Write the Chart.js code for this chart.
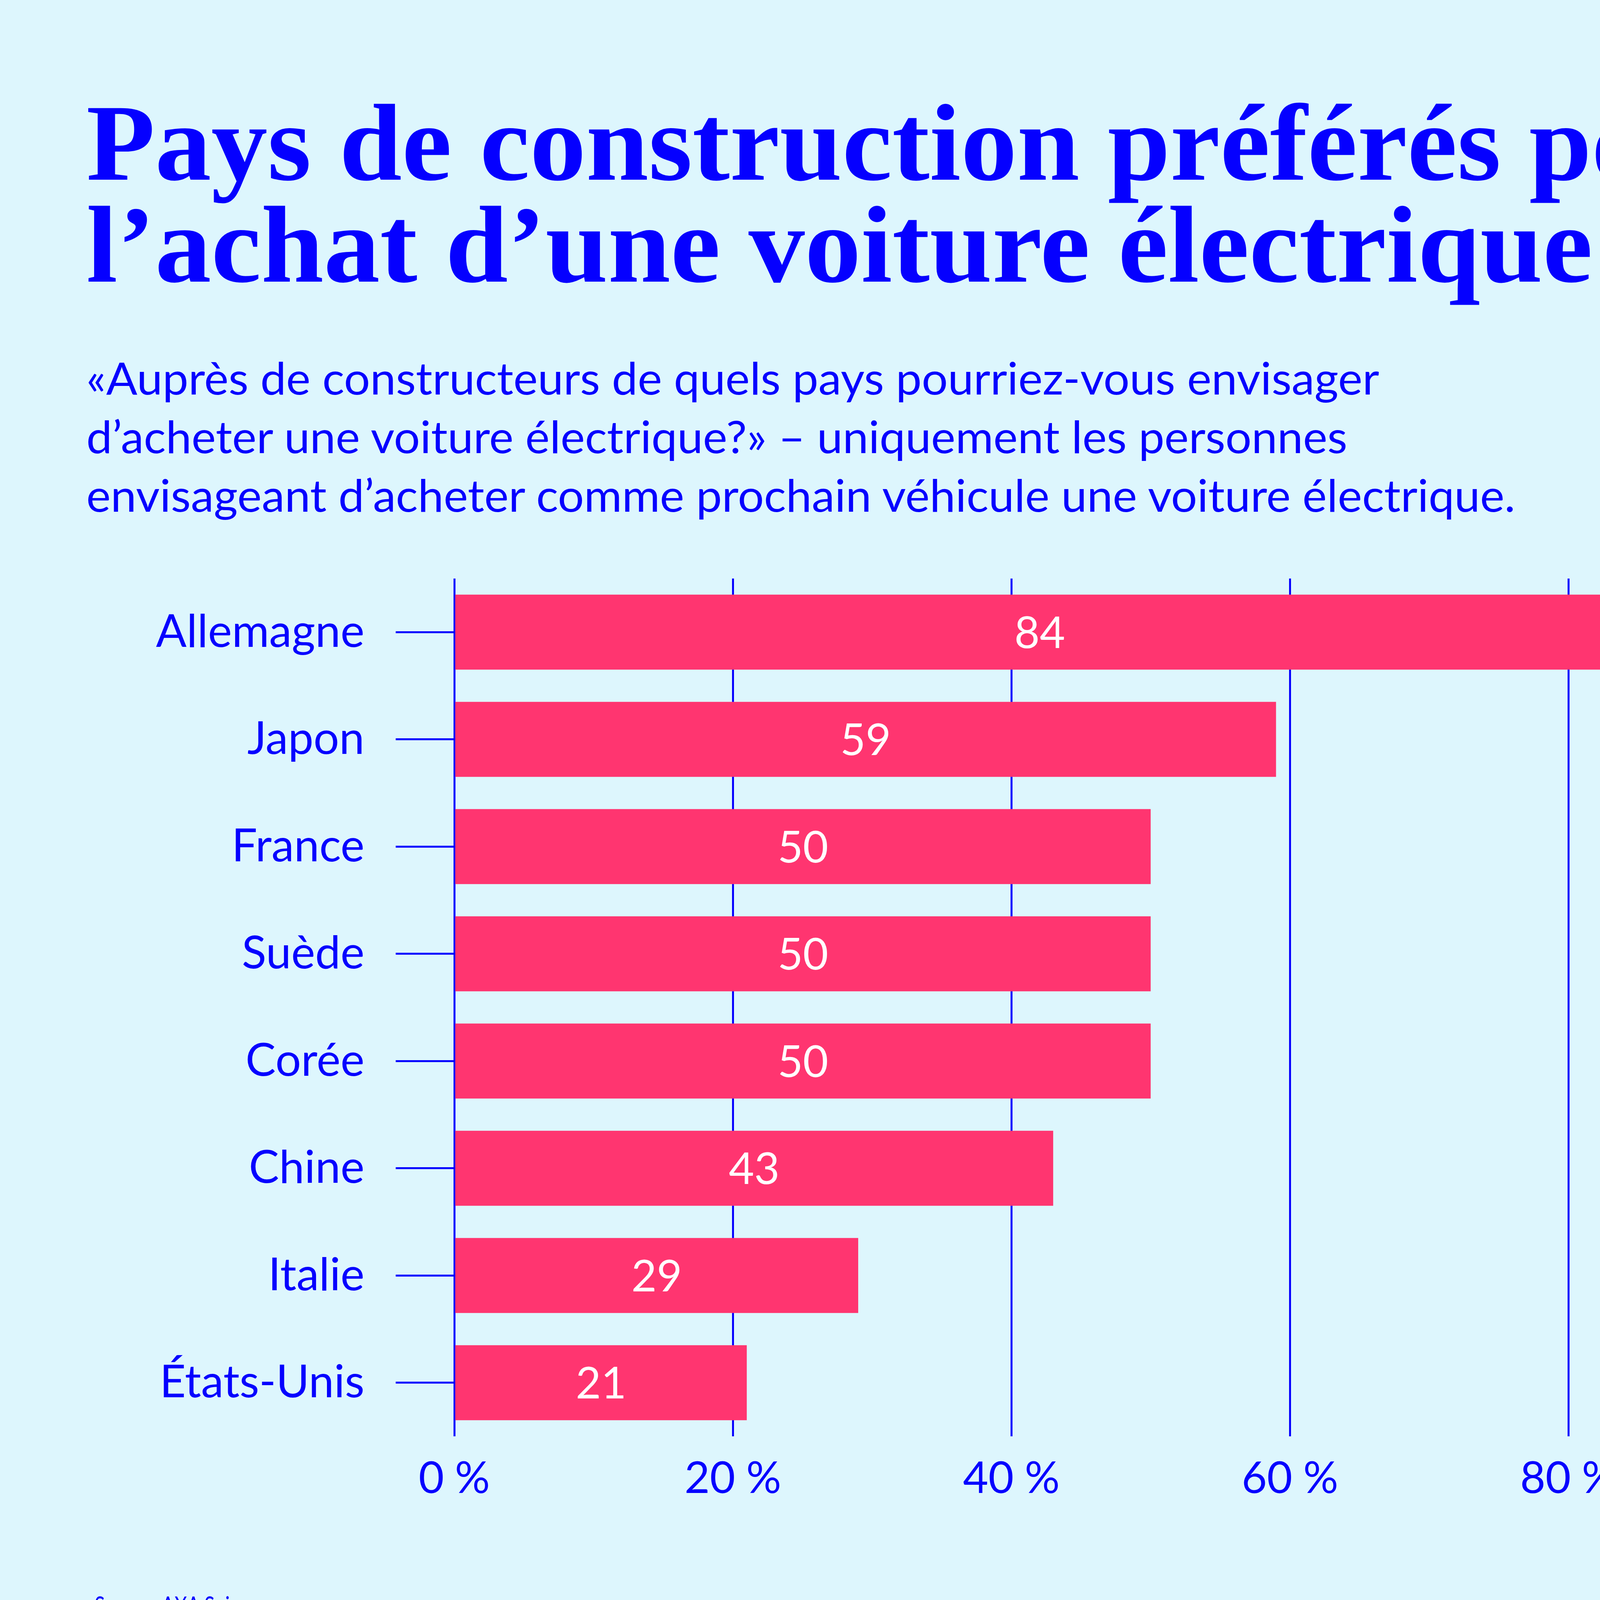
<!DOCTYPE html>
<html lang="fr">
<head>
<meta charset="utf-8">
<title>Pays de construction préférés</title>
<script src="https://cdn.jsdelivr.net/npm/chart.js@4.4.1/dist/chart.umd.min.js"></script>
<style>
  html, body { margin: 0; padding: 0; }
  body {
    width: 4621px; height: 4184px; position: relative; overflow: hidden;
    background: #ddf6fd; color: #0500ff;
  }
  .line { position: absolute; left: 221px; white-space: nowrap; transform-origin: 0 0; }
  .title { font-family: "Liberation Serif", serif; font-weight: bold; font-size: 280px; line-height: 1; }
  .sub { font-family: "Lato", sans-serif; font-size: 114px; line-height: 1.2; }
  .src { font-family: "Lato", sans-serif; font-size: 64px; line-height: 1.2; }
  #wrap { position: absolute; left: 0; top: 1380px; width: 4621px; height: 2620px; }
  #wrap canvas { display: block; }
</style>
</head>
<body>

<div class="line title" id="t1" data-base="460" data-w="4285">Pays de construction préférés pour</div>
<div class="line title" id="t2" data-base="721">l’achat d’une voiture électrique</div>

<div class="line sub" id="s1" data-base="1010" data-w="3310">«Auprès de constructeurs de quels pays pourriez-vous envisager</div>
<div class="line sub" id="s2" data-base="1160">d’acheter une voiture électrique?» – uniquement les personnes</div>
<div class="line sub" id="s3" data-base="1310">envisageant d’acheter comme prochain véhicule une voiture électrique.</div>

<div class="line src" id="src" data-base="4133" data-w="457">«Source: AXA Suisse»</div>

<div id="wrap"><canvas id="chart" width="4621" height="2620"></canvas></div>

<script>
const categories = ['Allemagne', 'Japon', 'France', 'Suède', 'Corée', 'Chine', 'Italie', 'États-Unis'];
const shares = [84, 59, 50, 50, 50, 43, 29, 21];
const xTicks = [0, 20, 40, 60, 80];
const xMax = 84;

const BLUE = '#0500ff';
const PINK = '#ff3570';

function placeLine(el, scale){
    const mark = document.createElement('span');
    mark.style.cssText = 'display:inline-block;width:0;height:0;vertical-align:baseline';
    el.appendChild(mark);
    el.style.top = '0px';
    const off = mark.getBoundingClientRect().top - el.getBoundingClientRect().top;
    mark.remove();
    el.style.top = (Number(el.dataset.base) - off) + 'px';
    if(scale) el.style.transform = 'scaleX(' + scale + ')';
}

function fitScale(el){
    el.style.display = 'inline-block';
    return Number(el.dataset.w) / el.scrollWidth;
}

function layoutText(){
    const ts = fitScale(document.getElementById('t1'));
    placeLine(document.getElementById('t1'), ts);
    placeLine(document.getElementById('t2'), ts);

    const ss = fitScale(document.getElementById('s1'));
    ['s1', 's2', 's3'].forEach(id => placeLine(document.getElementById(id), ss));

    const src = document.getElementById('src');
    placeLine(src, fitScale(src));
}

// white value in the middle of each bar
const barValues = {
    id: 'barValues',
    afterDatasetsDraw(chart){
        const ctx = chart.ctx;
        const meta = chart.getDatasetMeta(0);
        const size = 112;
        ctx.save();
        ctx.fillStyle = '#ffffff';
        ctx.font = size + 'px Lato';
        ctx.textAlign = 'center';
        ctx.textBaseline = 'alphabetic';
        meta.data.forEach((bar, i) => {
            const cx = (bar.x + bar.base) / 2;
            ctx.fillText(String(shares[i]), cx, bar.y + size * 0.36);
        });
        ctx.restore();
    }
};

function noPad(scale){
    scale.paddingTop = 0;
    scale.paddingBottom = 0;
    scale.paddingLeft = 0;
    scale.paddingRight = 0;
}

function initChart(){

    new Chart(document.getElementById('chart'), {
        type: 'bar',
        data: {
            labels: categories,
            datasets: [{
                data: shares,
                backgroundColor: PINK,
                borderWidth: 0,
                categoryPercentage: 1,
                barPercentage: 0.7
            }]
        },
        options: {
            indexAxis: 'y',
            responsive: false,
            animation: false,
            devicePixelRatio: 1,
            layout: { padding: { top: 101, right: 463, bottom: 0, left: 0 } },
            plugins: {
                legend: { display: false },
                tooltip: { enabled: false }
            },
            scales: {
                x: {
                    min: 0,
                    max: xMax,
                    afterBuildTicks: scale => { scale.ticks = xTicks.map(v => ({ value: v })); },
                    afterFit: scale => { scale.height = 323; noPad(scale); },
                    grid: { color: BLUE, lineWidth: 5, drawTicks: false },
                    border: { display: false },
                    ticks: {
                        color: BLUE,
                        padding: 42,
                        font: { family: 'Lato', size: 112 },
                        callback: v => v + '\u202F%'
                    }
                },
                y: {
                    afterFit: scale => { scale.width = 1163; noPad(scale); },
                    grid: {
                        color: BLUE,
                        lineWidth: 5,
                        offset: false,
                        drawOnChartArea: false,
                        drawTicks: true,
                        tickLength: 150
                    },
                    border: { display: false },
                    ticks: {
                        color: BLUE,
                        padding: 80,
                        font: { family: 'Lato', size: 116 }
                    }
                }
            }
        },
        plugins: [barValues]
    });
}

document.addEventListener('DOMContentLoaded', function(){
    document.fonts.ready.then(function(){
        layoutText();
        initChart();
    });
});
</script>
</body>
</html>
